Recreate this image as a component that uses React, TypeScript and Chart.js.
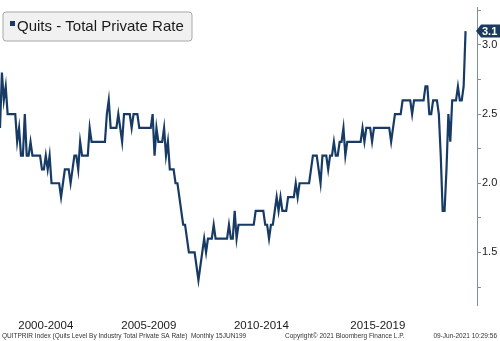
import React, { useEffect, useRef } from 'react';
import { Chart, registerables } from 'chart.js';

Chart.register(...registerables);

// ---- Data (monthly, Dec 2000 .. Apr 2021) ----
const seriesName = 'Quits - Total Private Rate';
const quitsDec2000 = [2.4];
const quits2001 = [2.8, 2.6, 2.7, 2.5, 2.5, 2.5, 2.5, 2.5, 2.3, 2.4, 2.2, 2.2];
const quits2002 = [2.5, 2.2, 2.2, 2.3, 2.2, 2.2, 2.2, 2.2, 2.2, 2.1, 2.1, 2.2];
const quits2003 = [2.1, 2.2, 2.0, 2.0, 2.0, 2.0, 2.0, 1.9, 2.0, 2.1, 2.1, 2.1];
const quits2004 = [2.0, 2.1, 2.2, 2.2, 2.1, 2.3, 2.2, 2.2, 2.2, 2.2, 2.4, 2.3];
const quits2005 = [2.3, 2.3, 2.3, 2.3, 2.3, 2.3, 2.3, 2.5, 2.6, 2.4, 2.4, 2.4];
const quits2006 = [2.4, 2.5, 2.4, 2.3, 2.5, 2.5, 2.5, 2.5, 2.4, 2.5, 2.5, 2.5];
const quits2007 = [2.4, 2.4, 2.4, 2.4, 2.4, 2.4, 2.4, 2.5, 2.2, 2.4, 2.3, 2.3];
const quits2008 = [2.3, 2.4, 2.2, 2.3, 2.1, 2.1, 2.1, 2.0, 2.0, 1.9, 1.8, 1.7];
const quits2009 = [1.7, 1.6, 1.5, 1.5, 1.5, 1.5, 1.4, 1.3, 1.4, 1.5, 1.6, 1.5];
const quits2010 = [1.6, 1.6, 1.6, 1.7, 1.6, 1.6, 1.6, 1.6, 1.6, 1.6, 1.6, 1.7];
const quits2011 = [1.6, 1.6, 1.8, 1.6, 1.7, 1.7, 1.7, 1.7, 1.7, 1.7, 1.7, 1.7];
const quits2012 = [1.7, 1.8, 1.8, 1.8, 1.8, 1.8, 1.7, 1.7, 1.6, 1.7, 1.7, 1.8];
const quits2013 = [1.9, 1.8, 1.9, 1.8, 1.8, 1.8, 1.9, 1.9, 1.9, 1.9, 2.0, 1.9];
const quits2014 = [2.0, 2.0, 2.0, 2.0, 2.0, 2.0, 2.1, 2.2, 2.2, 2.2, 2.1, 2.0];
const quits2015 = [2.2, 2.2, 2.2, 2.1, 2.2, 2.2, 2.3, 2.2, 2.2, 2.3, 2.3, 2.4];
const quits2016 = [2.2, 2.3, 2.3, 2.3, 2.3, 2.3, 2.3, 2.3, 2.3, 2.4, 2.3, 2.4];
const quits2017 = [2.4, 2.4, 2.3, 2.4, 2.4, 2.4, 2.4, 2.4, 2.4, 2.4, 2.4, 2.4];
const quits2018 = [2.3, 2.4, 2.5, 2.5, 2.5, 2.5, 2.6, 2.6, 2.6, 2.6, 2.6, 2.5];
const quits2019 = [2.6, 2.6, 2.6, 2.6, 2.6, 2.6, 2.7, 2.7, 2.5, 2.5, 2.6, 2.6];
const quits2020 = [2.6, 2.5, 2.2, 1.8, 1.8, 2.1, 2.5, 2.3, 2.6, 2.6, 2.6, 2.7];
const quits2021 = [2.6, 2.6, 2.7, 3.1];

const quitsRate = [
  ...quitsDec2000, ...quits2001, ...quits2002, ...quits2003, ...quits2004,
  ...quits2005, ...quits2006, ...quits2007, ...quits2008, ...quits2009,
  ...quits2010, ...quits2011, ...quits2012, ...quits2013, ...quits2014,
  ...quits2015, ...quits2016, ...quits2017, ...quits2018, ...quits2019,
  ...quits2020, ...quits2021,
];

// category axis: Dec 2000 .. Oct 2021 (axis runs a little past the last point)
const firstYear = 2000;
const firstMonthIndex = 11; // December
const axisMonthCount = 251;
const months: string[] = [];
for (let i = 0; i < axisMonthCount; i++) {
  const m = firstMonthIndex + i;
  const y = firstYear + Math.floor(m / 12);
  const mm = (m % 12) + 1;
  months.push(`${y}-${String(mm).padStart(2, '0')}`);
}

const xTickMonths = ['2002-12', '2007-06', '2012-05', '2017-06'];
const xTickLabels = ['2000-2004', '2005-2009', '2010-2014', '2015-2019'];
const yTickValues = [1.25, 1.5, 1.75, 2.0, 2.25, 2.5, 2.75, 3.0, 3.25];

const footerTexts = [
  { text: 'QUITPRIR Index (Quits Level By Industry Total Private SA Rate)  Monthly 15JUN199', x: 2, align: 'left' },
  { text: 'Copyright\u00A9 2021 Bloomberg Finance L.P.', x: 285, align: 'left' },
  { text: '09-Jun-2021 10:29:56', x: 497, align: 'right' },
];

const NAVY = '#173b64';
const FONT = "'Liberation Sans', Arial, sans-serif";

const overlayPlugin = {
  id: 'overlay',
  afterDraw(chart: any) {
    const ctx = chart.ctx as CanvasRenderingContext2D;
    const area = chart.chartArea;
    const yScale = chart.scales.y;
    ctx.save();

    // Legend box
    const bx = 3, by = 12, bw = 189, bh = 29, r = 3;
    ctx.beginPath();
    ctx.moveTo(bx + r, by);
    ctx.lineTo(bx + bw - r, by);
    ctx.quadraticCurveTo(bx + bw, by, bx + bw, by + r);
    ctx.lineTo(bx + bw, by + bh - r);
    ctx.quadraticCurveTo(bx + bw, by + bh, bx + bw - r, by + bh);
    ctx.lineTo(bx + r, by + bh);
    ctx.quadraticCurveTo(bx, by + bh, bx, by + bh - r);
    ctx.lineTo(bx, by + r);
    ctx.quadraticCurveTo(bx, by, bx + r, by);
    ctx.closePath();
    ctx.fillStyle = '#f1f1f1';
    ctx.fill();
    ctx.strokeStyle = '#a8a8a8';
    ctx.lineWidth = 1;
    ctx.stroke();
    ctx.fillStyle = NAVY;
    ctx.fillRect(10, 21, 5, 5);
    ctx.fillStyle = '#1a1a1a';
    ctx.font = `15px ${FONT}`;
    ctx.textAlign = 'left';
    ctx.textBaseline = 'middle';
    ctx.fillText(seriesName, 17, 26.5);

    // Last value badge
    const last = quitsRate[quitsRate.length - 1];
    const py = yScale.getPixelForValue(last);
    const left = area.right - 1;
    ctx.beginPath();
    ctx.moveTo(left, py);
    ctx.lineTo(left + 5, py - 6.5);
    ctx.lineTo(500, py - 6.5);
    ctx.lineTo(500, py + 6.5);
    ctx.lineTo(left + 5, py + 6.5);
    ctx.closePath();
    ctx.fillStyle = '#1d3a5e';
    ctx.fill();
    ctx.fillStyle = '#ffffff';
    ctx.font = `bold 11px ${FONT}`;
    ctx.textAlign = 'left';
    ctx.textBaseline = 'middle';
    ctx.fillText(last.toFixed(1), left + 6, py + 0.5);

    // Footer
    ctx.fillStyle = '#333333';
    ctx.font = `6.5px ${FONT}`;
    ctx.textBaseline = 'middle';
    for (const f of footerTexts) {
      ctx.textAlign = f.align as CanvasTextAlign;
      ctx.fillText(f.text, f.x, 336);
    }
    ctx.restore();
  },
};

export default function App() {
  const canvasRef = useRef<HTMLCanvasElement | null>(null);

  useEffect(() => {
    if (!canvasRef.current) return;
    const chart = new Chart(canvasRef.current, {
      type: 'line',
      data: {
        labels: months,
        datasets: [
          {
            label: seriesName,
            data: quitsRate,
            borderColor: NAVY,
            backgroundColor: NAVY,
            borderWidth: 2.2,
            pointRadius: 0,
            tension: 0,
            fill: false,
          },
        ],
      },
      options: {
        responsive: false,
        animation: false,
        devicePixelRatio: 1,
        layout: { padding: 0 },
        plugins: {
          legend: { display: false },
          tooltip: { enabled: false },
          title: { display: false },
        },
        scales: {
          x: {
            type: 'category',
            offset: false,
            grid: { display: false, drawTicks: false },
            border: { display: false },
            afterBuildTicks(scale: any) {
              scale.ticks = xTickMonths.map((m) => ({ value: months.indexOf(m) }));
            },
            afterFit(scale: any) {
              scale.height = 36;
            },
            ticks: {
              autoSkip: false,
              maxRotation: 0,
              minRotation: 0,
              padding: 14,
              color: '#1a1a1a',
              font: { family: FONT, size: 11.5 },
              callback(value: any) {
                const i = xTickMonths.indexOf(months[value as number]);
                return i >= 0 ? xTickLabels[i] : '';
              },
            },
          },
          y: {
            type: 'linear',
            position: 'right',
            min: 1.12,
            max: 3.27,
            afterBuildTicks(scale: any) {
              scale.ticks = yTickValues.map((v) => ({ value: v }));
            },
            afterFit(scale: any) {
              scale.width = 23;
            },
            grid: {
              drawOnChartArea: false,
              drawTicks: true,
              tickLength: 4,
              color: '#7f8fa3',
            },
            border: { display: true, color: '#7f8fa3', width: 1 },
            ticks: {
              padding: 1,
              color: '#1a1a1a',
              font: { family: FONT, size: 11 },
              callback(value: any) {
                const v = Number(value);
                return Math.abs(v * 2 - Math.round(v * 2)) < 1e-6 ? v.toFixed(1) : '';
              },
            },
          },
        },
      },
      plugins: [overlayPlugin],
    });
    return () => chart.destroy();
  }, []);

  return (
    <div style={{ position: 'absolute', left: 0, top: 0, width: 500, height: 341, background: '#ffffff' }}>
      <canvas ref={canvasRef} width={500} height={341} style={{ display: 'block' }} />
    </div>
  );
}
